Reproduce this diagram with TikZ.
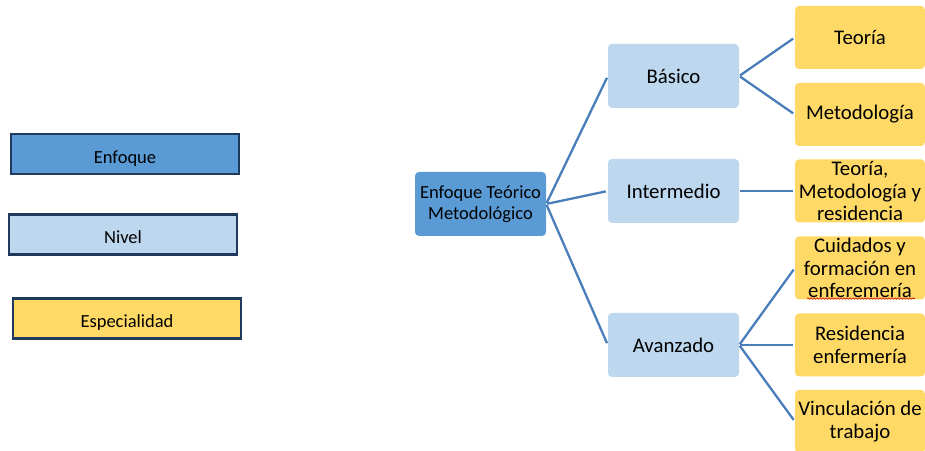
\documentclass[tikz,border=0pt]{standalone}
\usepackage{fontspec}
\setmainfont{Carlito}
\usetikzlibrary{decorations.pathmorphing}
\definecolor{enfoqueC}{HTML}{5B9BD5}
\definecolor{nivelC}{HTML}{BDD7EE}
\definecolor{especC}{HTML}{FFD966}
\definecolor{borderC}{HTML}{1F3A5C}
\definecolor{lineC}{HTML}{4A7EBB}
\tikzset{
  legendbox/.style={draw=borderC, line width=2.5bp, inner sep=0pt,
    minimum width=228bp, minimum height=40bp,
    text height=19bp, text depth=0pt,
    font=\fontsize{18.5bp}{21bp}\selectfont},
  treebox/.style={rounded corners=4bp, inner sep=0pt, align=center,
    minimum width=131bp, minimum height=64bp},
  rootbox/.style={treebox, fill=enfoqueC, font=\fontsize{18.5bp}{21bp}\selectfont},
  levelbox/.style={treebox, fill=nivelC, font=\fontsize{20.8bp}{23bp}\selectfont},
  leafbox/.style={treebox, fill=especC, minimum width=130bp, minimum height=63bp,
    font=\fontsize{20.8bp}{22.5bp}\selectfont},
  link/.style={draw=lineC, line width=2.3bp, shorten <=1bp, shorten >=2bp},
}
\begin{document}
\begin{tikzpicture}[x=1bp,y=-1bp]
\useasboundingbox (0,0) rectangle (925,451);
% legend
\node[legendbox, fill=enfoqueC] (lenf) at (125,154) {Enfoque};
\node[legendbox, fill=nivelC] (lniv) at (123,234.5) {Nivel};
\node[legendbox, fill=especC] (lesp) at (127,318.5) {Especialidad};
% tree
\node[rootbox] (root) at (480.5,204) {Enfoque Teórico\\Metodológico};
\node[levelbox] (bas) at (673.5,76) {Básico};
\node[levelbox] (int) at (673.5,191) {Intermedio};
\node[levelbox] (ava) at (673.5,345) {Avanzado};
\node[leafbox] (teo) at (860,37.5) {Teoría};
\node[leafbox] (met) at (860,114.5) {Metodología};
\node[leafbox] (tmr) at (860,191) {Teoría,\\Metodología y\\residencia};
\node[leafbox] (cui) at (860,268) {Cuidados y\\formación en\\enferemería};
\node[leafbox] (res) at (860,345) {Residencia\\enfermería};
\node[leafbox] (vin) at (860,421.5) {Vinculación de\\trabajo};
% connectors
\draw[link] (root.east) -- (bas.west);
\draw[link] (root.east) -- (int.west);
\draw[link] (root.east) -- (ava.west);
\draw[link] (bas.east) -- (teo.west);
\draw[link] (bas.east) -- (met.west);
\draw[link] (int.east) -- (tmr.west);
\draw[link] (ava.east) -- (cui.west);
\draw[link] (ava.east) -- (res.west);
\draw[link] (ava.east) -- (vin.west);
% spell-check squiggle
\coordinate (sqa) at (807,298.5);
\coordinate (sqb) at (915,298.5);
\draw[red!80!black, line width=0.6bp, decorate,
  decoration={snake, segment length=3bp, amplitude=0.7bp}] (sqa) -- (sqb);
\end{tikzpicture}
\end{document}
